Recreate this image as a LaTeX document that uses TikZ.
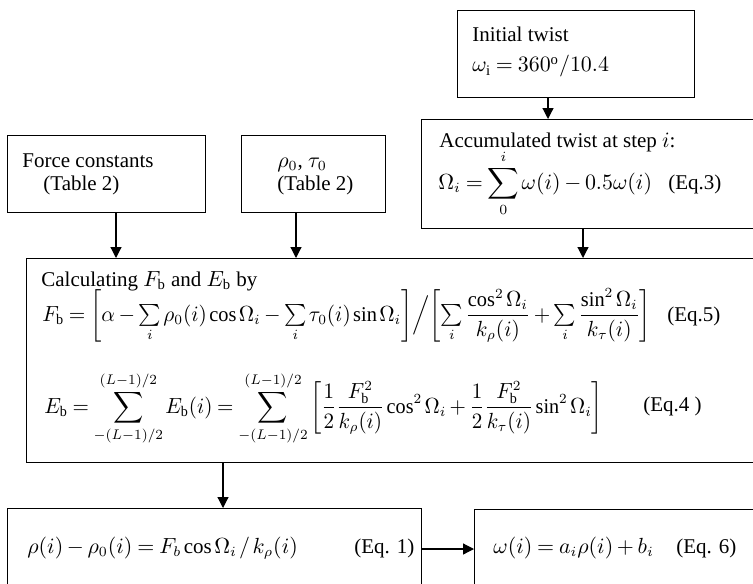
\documentclass[tikz,border=0pt]{standalone}
\usepackage{amsmath}
\usepackage{graphicx}
\usepackage{fontspec}
\setmainfont{Liberation Serif}
\usetikzlibrary{arrows.meta}
\newcommand\eqsp{\medmuskip=3mu\relax\thickmuskip=4mu\relax\thinmuskip=2mu\relax}
\tikzset{
  box/.style={draw, line width=0.7pt, anchor=north west, inner sep=0pt},
  lbl/.style={anchor=base west, inner sep=0pt, font={\fontsize{10.5}{12}\selectfont\eqsp}},
  arr/.style={-{Triangle[length=5.5pt,width=5.5pt]}, line width=0.6pt}
}
\begin{document}
\begin{tikzpicture}[x=0.5pt,y=-0.5pt]
\useasboundingbox (0,0) rectangle (753,583);
\clip (0,0) rectangle (753,583);
\node[box, minimum width=118.5pt, minimum height=43.5pt] (twist) at (457,10) {};
\node[box, minimum width=175pt, minimum height=54.5pt] (accum) at (421,119) {};
\node[box, minimum width=99pt, minimum height=38.5pt] (force) at (7,135) {};
\node[box, minimum width=72pt, minimum height=38.5pt] (rho) at (241,135) {};
\node[box, minimum width=375pt, minimum height=102pt] (calc) at (26,258) {};
\node[box, minimum width=207pt, minimum height=50pt] (rhoeq) at (7,508) {};
\node[box, minimum width=150pt, minimum height=50pt] (omeq) at (474,509) {};
\draw[arr] (twist.south -| 548,0) -- (accum.north -| 548,0);
\draw[arr] (force.south -| 116,0) -- (calc.north -| 116,0);
\draw[arr] (rho.south -| 296,0) -- (calc.north -| 296,0);
\draw[arr] (accum.south -| 583,0) -- (calc.north -| 583,0);
\draw[arr] (calc.south -| 223,0) -- (rhoeq.north -| 223,0);
\draw[arr] (rhoeq.east |- 0,549) -- (omeq.west |- 0,549);
\node[lbl] (twistA) at (472,42) {Initial twist};
\node[lbl] (twistB) at (472,72) {$\omega_{\mathrm{i}} = 360^{\mathrm{o}}/10.4$};
\node[lbl] (accumA) at (439,147) {Accumulated twist at step $i$:};
\node[lbl] (accumB) at (438,189) {$\displaystyle \Omega_i = \sum_{0}^{i}\omega(i) - 0.5\omega(i)$};
\node[lbl] (eq3) at (668,189) {(Eq.3)};
\node[lbl] (forceA) at (22,167) {Force constants};
\node[lbl] (forceB) at (43,190) {(Table 2)};
\node[lbl] (rhoA) at (277,167) {$\rho_0$,\ $\tau_0$};
\node[lbl] (rhoB) at (277,190) {(Table 2)};
\node[lbl] (calcA) at (41,286) {Calculating $F_{\mathrm{b}}$ and $E_{\mathrm{b}}$ by};
\node[lbl] (calcB) at (42,321) {\scalebox{0.97}[1]{$F_{\mathrm{b}} = {\left[\alpha - \sum\limits_i \rho_0(i)\cos\Omega_i - \sum\limits_i \tau_0(i)\sin\Omega_i\right]}\Big/{\left[\sum\limits_i \dfrac{\cos^2\Omega_i}{k_\rho(i)} + \sum\limits_i \dfrac{\sin^2\Omega_i}{k_\tau(i)}\right]}$}};
\node[lbl] (eq5) at (667,321) {(Eq.5)};
\node[lbl] (calcC) at (44,413) {\scalebox{0.96}[1]{$\displaystyle E_{\mathrm{b}} = \sum_{-(L-1)/2}^{(L-1)/2} E_{\mathrm{b}}(i) = \sum_{-(L-1)/2}^{(L-1)/2}{\left[\frac{1}{2}\frac{F_{\mathrm{b}}^2}{k_\rho(i)}\cos^2\Omega_i + \frac{1}{2}\frac{F_{\mathrm{b}}^2}{k_\tau(i)}\sin^2\Omega_i\right]}$}};
\node[lbl] (eq4) at (643,411) {(Eq.4 )};
\node[lbl] (rhoeqA) at (27,553) {$\rho(i) - \rho_0(i) = F_b\cos\Omega_i\,/\,k_\rho(i)$};
\node[lbl] (eq1) at (354,553) {(Eq. 1)};
\node[lbl] (omeqA) at (493,553) {$\omega(i) = a_i\rho(i) + b_i$};
\node[lbl] (eq6) at (676,553) {(Eq. 6)};
\end{tikzpicture}
\end{document}
